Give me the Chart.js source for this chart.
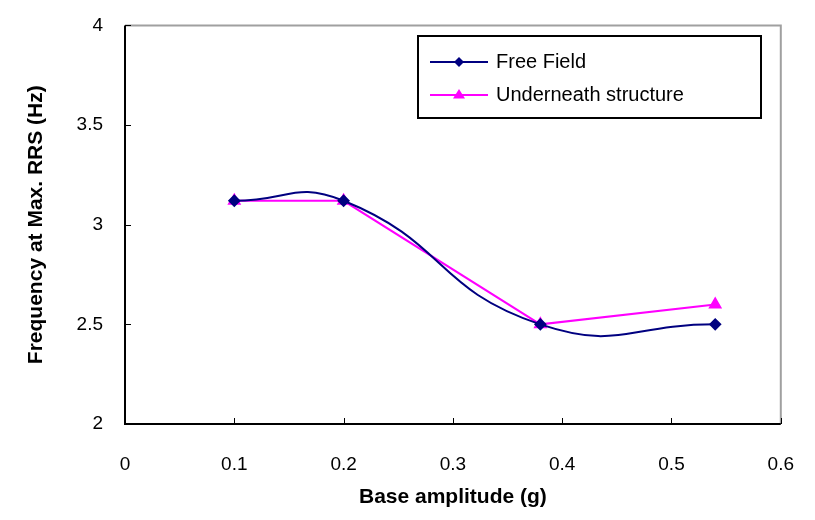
<!DOCTYPE html>
<html>
<head>
<meta charset="utf-8">
<script src="https://cdn.jsdelivr.net/npm/chart.js@4.4.1/dist/chart.umd.min.js"></script>
<style>
  html, body { margin: 0; padding: 0; background: #fff; }
  #wrap { width: 815px; height: 520px; }
</style>
</head>
<body>
<div id="wrap"><canvas id="freqChart" width="815" height="520"></canvas></div>
<script>
// data
var freeFieldX = [0.1, 0.2, 0.38, 0.54];
var freeFieldY = [3.12, 3.12, 2.5, 2.5];
var underX = [0.1, 0.2, 0.38, 0.54];
var underY = [3.12, 3.12, 2.5, 2.6];
var xTicks = [0, 0.1, 0.2, 0.3, 0.4, 0.5, 0.6];
var yTicks = [2, 2.5, 3, 3.5, 4];

function toPoints(xs, ys) {
  return xs.map(function (x, i) { return { x: x, y: ys[i] }; });
}

var FONT = "'Liberation Sans', Arial, sans-serif";

// box round the plot + inward tick marks
var frame = {
  id: "frame",
  afterDraw: function (chart) {
    var ctx = chart.ctx, a = chart.chartArea;
    var xs = chart.scales.x, ys = chart.scales.y;
    ctx.save();
    ctx.strokeStyle = "#a0a0a0";
    ctx.lineWidth = 2;
    ctx.beginPath();
    ctx.moveTo(a.left, a.top);
    ctx.lineTo(a.right, a.top);
    ctx.lineTo(a.right, a.bottom);
    ctx.stroke();
    ctx.strokeStyle = "#000";
    ctx.lineWidth = 2;
    ctx.beginPath();
    ctx.moveTo(a.left, a.top);
    ctx.lineTo(a.left, a.bottom);
    ctx.lineTo(a.right, a.bottom);
    ctx.stroke();
    ctx.lineWidth = 1;
    ctx.beginPath();
    xs.ticks.forEach(function (t) {
      var px = Math.round(xs.getPixelForValue(t.value)) + 0.5;
      ctx.moveTo(px, a.bottom);
      ctx.lineTo(px, a.bottom - 6);
    });
    ys.ticks.forEach(function (t) {
      var py = Math.round(ys.getPixelForValue(t.value)) + 0.5;
      ctx.moveTo(a.left, py);
      ctx.lineTo(a.left + 6, py);
    });
    ctx.stroke();
    ctx.restore();
  }
};

// legend box drawn inside the plot, like the original
var boxLegend = {
  id: "boxLegend",
  afterDraw: function (chart) {
    var ctx = chart.ctx;
    var left = 418, top = 36, w = 343, h = 82;
    ctx.save();
    ctx.fillStyle = "#fff";
    ctx.fillRect(left, top, w, h);
    ctx.strokeStyle = "#000";
    ctx.lineWidth = 2;
    ctx.strokeRect(left, top, w, h);
    ctx.font = "20px " + FONT;
    ctx.textBaseline = "middle";
    chart.data.datasets.forEach(function (ds, i) {
      var y = top + 26 + i * 33;
      ctx.strokeStyle = ds.borderColor;
      ctx.lineWidth = 2;
      ctx.beginPath();
      ctx.moveTo(left + 12, y);
      ctx.lineTo(left + 70, y);
      ctx.stroke();
      ctx.fillStyle = ds.pointBackgroundColor;
      ctx.beginPath();
      var cx = left + 41, r = ds.pointRadius;
      if (ds.pointStyle === "triangle") {
        ctx.moveTo(cx, y - r);
        ctx.lineTo(cx + r, y + r * 0.6);
        ctx.lineTo(cx - r, y + r * 0.6);
      } else {
        ctx.moveTo(cx, y - r);
        ctx.lineTo(cx + r, y);
        ctx.lineTo(cx, y + r);
        ctx.lineTo(cx - r, y);
      }
      ctx.closePath();
      ctx.fill();
      ctx.fillStyle = "#000";
      ctx.fillText(ds.label, left + 78, y);
    });
    ctx.restore();
  }
};

function plainNum(v) { return String(+v.toFixed(2)); }

var ctx = document.getElementById("freqChart").getContext("2d");
var freqChart = new Chart(ctx, {
  type: "line",
  data: {
    datasets: [
      {
        label: "Free Field",
        data: toPoints(freeFieldX, freeFieldY),
        borderColor: "#000080",
        backgroundColor: "#000080",
        pointBackgroundColor: "#000080",
        pointBorderColor: "#000080",
        pointStyle: "rectRot",
        pointRadius: 5,
        borderWidth: 2,
        tension: 0.5,
        fill: false
      },
      {
        label: "Underneath structure",
        data: toPoints(underX, underY),
        borderColor: "#ff00ff",
        backgroundColor: "#ff00ff",
        pointBackgroundColor: "#ff00ff",
        pointBorderColor: "#ff00ff",
        pointStyle: "triangle",
        pointRadius: 6,
        borderWidth: 2,
        tension: 0,
        fill: false
      }
    ]
  },
  options: {
    responsive: false,
    animation: false,
    layout: { padding: { top: 20, right: 19, left: 0, bottom: 0 } },
    plugins: {
      legend: { display: false },
      tooltip: { enabled: false }
    },
    scales: {
      x: {
        type: "linear",
        min: 0,
        max: 0.6,
        afterBuildTicks: function (s) { s.ticks = xTicks.map(function (v) { return { value: v }; }); },
        afterFit: function (s) { s.height = 96; },
        grid: { display: false },
        border: { display: false },
        ticks: {
          color: "#000",
          font: { family: FONT, size: 19 },
          padding: 21,
          maxRotation: 0,
          callback: plainNum
        },
        title: {
          display: true,
          text: "Base amplitude (g)",
          color: "#000",
          font: { family: FONT, size: 21, weight: "bold" },
          padding: { top: 0, bottom: 10 }
        }
      },
      y: {
        type: "linear",
        min: 2,
        max: 4,
        afterBuildTicks: function (s) { s.ticks = yTicks.map(function (v) { return { value: v }; }); },
        afterFit: function (s) { s.width = 125; },
        grid: { display: false },
        border: { display: false },
        ticks: {
          color: "#000",
          font: { family: FONT, size: 19 },
          padding: 14,
          callback: plainNum
        },
        title: {
          display: true,
          text: "Frequency at Max. RRS (Hz)",
          color: "#000",
          font: { family: FONT, size: 21, weight: "bold" },
          padding: { top: 24, bottom: 0 }
        }
      }
    }
  },
  plugins: [frame, boxLegend]
});
</script>
</body>
</html>
